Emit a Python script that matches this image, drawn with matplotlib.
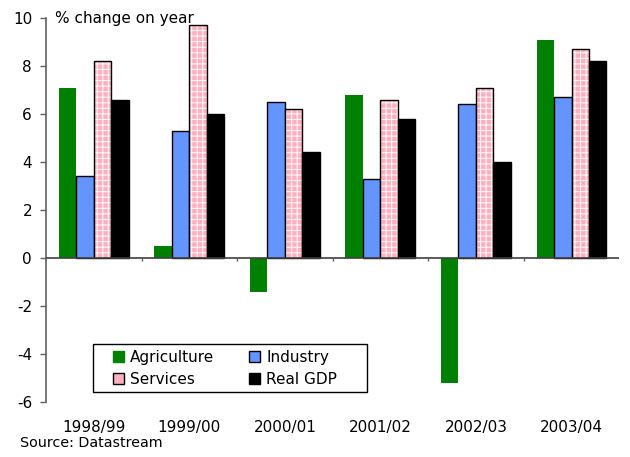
import numpy as np
import matplotlib
matplotlib.use("Agg")
import matplotlib.pyplot as plt
from matplotlib.patches import Patch, Rectangle
from matplotlib.transforms import blended_transform_factory

years = ["1998/99", "1999/00", "2000/01", "2001/02", "2002/03", "2003/04"]
agriculture = [7.1, 0.5, -1.4, 6.8, -5.2, 9.1]
industry = [3.4, 5.3, 6.5, 3.3, 6.4, 6.7]
services = [8.2, 9.7, 6.2, 6.6, 7.1, 8.7]
real_gdp = [6.6, 6.0, 4.4, 5.8, 4.0, 8.2]
yticks = [-6, -4, -2, 0, 2, 4, 6, 8, 10]

plt.rcParams["font.family"] = ["DejaVu Sans"]
plt.rcParams["hatch.linewidth"] = 0.7

fig = plt.figure(figsize=(6.3, 4.57), dpi=100)
ax = fig.add_axes([0.073, 0.120, 0.910, 0.8406])

x = np.arange(len(years))
w = 0.183
green = "#008000"
blue = "#6495ff"
pink = "#ffb0bf"
fs = 11

ax.bar(x - 1.5 * w, agriculture, w, color=green, linewidth=0, zorder=3)
ax.bar(x - 0.5 * w, industry, w, color=blue, edgecolor="black", linewidth=1.0, zorder=3)
# textured services bars: white grid hatch over pink, then black outline on top
ax.bar(x + 0.5 * w, services, w, color=pink, edgecolor="white", hatch="+++",
       linewidth=0, zorder=3)
ax.bar(x + 0.5 * w, services, w, fill=False, edgecolor="black", linewidth=1.0, zorder=4)
ax.bar(x + 1.5 * w, real_gdp, w, color="black", edgecolor="black", linewidth=1.0, zorder=3)

ax.set_xlim(-0.5, len(years) - 0.5)
ax.set_ylim(-6, 10)
ax.set_yticks(yticks)
ax.set_yticklabels([str(v) for v in yticks], fontsize=fs)
ax.tick_params(axis="y", direction="out", length=4, width=1, color="#606060", pad=6)

for s in ["top", "right", "bottom"]:
    ax.spines[s].set_visible(False)
ax.spines["left"].set_color("#606060")
ax.spines["left"].set_linewidth(1.2)

# zero line with category boundary ticks
ax.axhline(0, color="#404040", linewidth=1.2, zorder=5)
ax.set_xticks([])
trans = blended_transform_factory(ax.transData, ax.transAxes)
for b in np.arange(0.5, len(years) - 0.5, 1.0):
    ax.plot([b, b], [0, -0.12], color="#606060", linewidth=1, zorder=5,
            solid_capstyle="butt")
for xi, lab in zip(x, years):
    ax.text(xi, -0.065, lab, transform=trans, ha="center", va="center", fontsize=fs)

ax.text(0.016, 1.0, "% change on year", transform=ax.transAxes, ha="left",
        va="center", fontsize=fs)
fig.text(0.032, 0.015, "Source: Datastream", ha="left", va="bottom", fontsize=10.3)

# legend box drawn separately so its padding can be set freely
ax.add_patch(Rectangle((0.082, 0.026), 0.478, 0.125, transform=ax.transAxes,
                       facecolor="white", edgecolor="black", linewidth=1.0,
                       zorder=6))
handles = [
    Patch(facecolor=green, edgecolor=green, label="Agriculture"),
    Patch(facecolor=pink, edgecolor="black", label="Services"),
    Patch(facecolor=blue, edgecolor="black", label="Industry"),
    Patch(facecolor="black", edgecolor="black", label="Real GDP"),
]
leg = ax.legend(handles=handles, ncol=2, loc="upper left",
                bbox_to_anchor=(0.117, 0.136), fontsize=fs, frameon=False,
                handlelength=0.7, handleheight=0.7, handletextpad=0.4,
                columnspacing=2.3, labelspacing=0.45, borderpad=0,
                borderaxespad=0)
leg.set_zorder(7)

fig.savefig("out.png", dpi=100)
